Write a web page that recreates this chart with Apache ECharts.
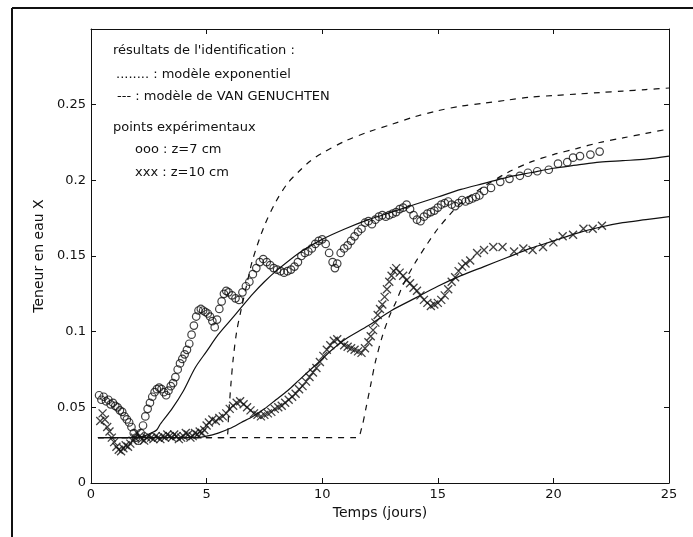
<!DOCTYPE html>
<html>
<head>
<meta charset="utf-8">
<script src="https://cdn.jsdelivr.net/npm/echarts@6/dist/echarts.min.js"></script>
<style>html,body{margin:0;padding:0;background:#fff}#c{width:693px;height:537px}</style>
</head>
<body>
<div id="c"></div>
<script>
// ---- Data ----
const xTicks = [0, 5, 10, 15, 20, 25];
const yTicks = [0, 0.05, 0.1, 0.15, 0.2, 0.25];

// Exponential model (solid), z = 7 cm
const exp7X = [0.3, 2.0, 2.3, 2.6, 2.84, 3.0, 3.5, 4.0, 4.5, 5.0, 5.5, 6.0, 6.5, 7.0, 7.5, 8.0, 9.0, 10, 11, 12, 13, 14, 15, 16, 17, 18, 19, 20, 21, 22, 23, 24, 25];
const exp7Y = [0.03, 0.03, 0.031, 0.033, 0.035, 0.039, 0.049, 0.061, 0.076, 0.087, 0.098, 0.107, 0.116, 0.125, 0.133, 0.140, 0.152, 0.161, 0.168, 0.174, 0.179, 0.184, 0.189, 0.194, 0.198, 0.202, 0.205, 0.208, 0.210, 0.212, 0.213, 0.214, 0.216];

// Exponential model (solid), z = 10 cm
const exp10X = [0.3, 4.5, 5.0, 5.5, 6.0, 6.5, 7.0, 7.5, 8.0, 8.5, 9.0, 9.5, 10, 10.5, 11, 12, 13, 14, 15, 16, 17, 18, 19, 20, 21, 22, 23, 24, 25];
const exp10Y = [0.03, 0.03, 0.031, 0.033, 0.036, 0.040, 0.044, 0.049, 0.055, 0.061, 0.068, 0.075, 0.082, 0.089, 0.095, 0.104, 0.114, 0.122, 0.130, 0.137, 0.143, 0.149, 0.155, 0.160, 0.165, 0.169, 0.172, 0.174, 0.176];

// Van Genuchten model (dashed), z = 7 cm
const vg7X = [0.3, 5.85, 5.95, 6.05, 6.15, 6.3, 6.5, 6.75, 7.0, 7.5, 8.0, 8.5, 9.0, 9.5, 10, 11, 12, 13, 14, 15, 16, 17, 18, 19, 20, 21, 22, 23, 24, 25];
const vg7Y = [0.03, 0.03, 0.045, 0.065, 0.082, 0.100, 0.115, 0.132, 0.148, 0.170, 0.186, 0.198, 0.206, 0.213, 0.218, 0.226, 0.232, 0.237, 0.242, 0.246, 0.249, 0.251, 0.253, 0.255, 0.256, 0.257, 0.258, 0.259, 0.260, 0.261];

// Van Genuchten model (dashed), z = 10 cm
const vg10X = [0.3, 11.5, 11.7, 11.9, 12.1, 12.3, 12.6, 12.9, 13.2, 13.5, 14, 14.5, 15, 15.5, 16, 17, 18, 19, 20, 21, 22, 23, 24, 25];
const vg10Y = [0.03, 0.03, 0.036, 0.05, 0.065, 0.08, 0.097, 0.11, 0.12, 0.131, 0.145, 0.157, 0.168, 0.177, 0.185, 0.196, 0.205, 0.212, 0.217, 0.221, 0.225, 0.228, 0.231, 0.234];

// Experimental points, z = 7 cm (ooo)
const obs7X = [0.35,0.45,0.55,0.65,0.75,0.85,0.95,1.05,1.15,1.25,1.35,1.45,1.55,1.65,1.75,1.85,1.95,2.05,2.15,2.25,2.35,2.45,2.55,2.65,2.75,2.85,2.95,3.05,3.15,3.25,3.35,3.45,3.55,3.65,3.75,3.85,3.95,4.05,4.15,4.25,4.35,4.45,4.55,4.65,4.75,4.85,4.95,5.05,5.15,5.25,5.35,5.45,5.55,5.65,5.75,5.85,5.95,6.1,6.25,6.4,6.55,6.7,6.85,7.0,7.15,7.3,7.45,7.6,7.75,7.9,8.05,8.2,8.35,8.5,8.65,8.8,8.95,9.1,9.25,9.4,9.55,9.7,9.85,10.0,10.15,10.3,10.45,10.55,10.65,10.8,10.95,11.1,11.25,11.4,11.55,11.7,11.85,12.0,12.15,12.3,12.45,12.6,12.75,12.9,13.05,13.2,13.35,13.5,13.65,13.8,13.95,14.1,14.25,14.4,14.55,14.7,14.85,15.0,15.15,15.3,15.45,15.6,15.75,15.9,16.05,16.2,16.35,16.5,16.65,16.8,17.0,17.3,17.7,18.1,18.55,18.9,19.3,19.8,20.2,20.6,20.85,21.15,21.6,22.0];
const obs7Y = [0.058,0.055,0.057,0.054,0.055,0.052,0.053,0.051,0.050,0.048,0.047,0.044,0.042,0.040,0.037,0.033,0.030,0.028,0.033,0.038,0.044,0.049,0.053,0.057,0.060,0.062,0.063,0.062,0.060,0.058,0.061,0.064,0.066,0.070,0.075,0.079,0.082,0.085,0.088,0.092,0.098,0.104,0.110,0.114,0.115,0.114,0.113,0.112,0.110,0.107,0.103,0.108,0.115,0.120,0.125,0.127,0.126,0.124,0.122,0.121,0.126,0.130,0.133,0.138,0.142,0.146,0.148,0.146,0.144,0.142,0.141,0.140,0.139,0.140,0.141,0.143,0.146,0.150,0.152,0.153,0.155,0.158,0.160,0.161,0.158,0.152,0.146,0.142,0.145,0.152,0.155,0.157,0.160,0.163,0.166,0.168,0.172,0.173,0.171,0.174,0.176,0.177,0.176,0.177,0.178,0.179,0.181,0.182,0.184,0.181,0.177,0.174,0.173,0.176,0.178,0.179,0.180,0.182,0.184,0.185,0.186,0.184,0.183,0.185,0.187,0.186,0.187,0.188,0.189,0.190,0.193,0.195,0.199,0.201,0.203,0.205,0.206,0.207,0.211,0.212,0.215,0.216,0.217,0.219];

// Experimental points, z = 10 cm (xxx)
const obs10X = [0.4,0.5,0.6,0.7,0.8,0.9,1.0,1.1,1.2,1.3,1.4,1.5,1.6,1.7,1.8,1.9,2.0,2.1,2.2,2.3,2.4,2.5,2.6,2.7,2.8,2.9,3.0,3.1,3.2,3.3,3.4,3.5,3.6,3.7,3.8,3.9,4.0,4.1,4.2,4.3,4.4,4.5,4.6,4.7,4.8,4.9,5.0,5.1,5.25,5.4,5.55,5.7,5.85,6.0,6.15,6.3,6.45,6.6,6.75,6.9,7.05,7.2,7.35,7.5,7.65,7.8,7.95,8.1,8.25,8.4,8.55,8.7,8.85,9.0,9.15,9.3,9.45,9.6,9.75,9.9,10.05,10.2,10.35,10.5,10.65,10.8,10.95,11.1,11.25,11.4,11.55,11.7,11.85,12.0,12.1,12.2,12.3,12.4,12.5,12.6,12.7,12.8,12.9,13.0,13.1,13.2,13.35,13.5,13.65,13.8,13.95,14.1,14.25,14.4,14.55,14.7,14.85,15.0,15.15,15.3,15.45,15.6,15.75,15.9,16.05,16.2,16.4,16.7,17.0,17.4,17.8,18.3,18.7,19.1,19.55,20.0,20.4,20.85,21.3,21.7,22.1];
const obs10Y = [0.041,0.046,0.042,0.037,0.034,0.030,0.027,0.024,0.022,0.021,0.023,0.025,0.024,0.026,0.028,0.030,0.033,0.031,0.029,0.028,0.030,0.031,0.030,0.029,0.031,0.030,0.029,0.031,0.030,0.032,0.031,0.030,0.032,0.031,0.029,0.030,0.031,0.033,0.032,0.030,0.031,0.033,0.032,0.034,0.033,0.035,0.038,0.040,0.042,0.041,0.043,0.044,0.046,0.049,0.051,0.053,0.054,0.052,0.050,0.048,0.046,0.045,0.044,0.045,0.046,0.047,0.049,0.050,0.051,0.053,0.055,0.057,0.059,0.062,0.064,0.067,0.070,0.073,0.076,0.080,0.084,0.088,0.091,0.094,0.095,0.093,0.091,0.090,0.089,0.088,0.087,0.086,0.089,0.093,0.097,0.101,0.106,0.111,0.115,0.118,0.123,0.128,0.133,0.137,0.140,0.142,0.139,0.137,0.134,0.132,0.129,0.127,0.124,0.121,0.119,0.117,0.118,0.119,0.121,0.124,0.128,0.133,0.136,0.140,0.143,0.145,0.147,0.152,0.154,0.156,0.156,0.153,0.155,0.154,0.156,0.159,0.163,0.164,0.168,0.168,0.170];

const legendLines = [
  "résultats de l'identification :",
  "........ : modèle exponentiel",
  "--- : modèle de VAN GENUCHTEN",
  "points expérimentaux",
  "ooo : z=7 cm",
  "xxx : z=10 cm"
];

// ---- Chart ----
const zip = (xs, ys) => xs.map((x, i) => [x, ys[i]]);
const FONT = "'DejaVu Sans', 'Liberation Sans', Arial, sans-serif";
const chart = echarts.init(document.getElementById('c'), null, {renderer: 'canvas'});

const axisLineStyle = {color: '#111', width: 1};
const xCommon = {type: 'value', min: xTicks[0], max: xTicks[xTicks.length - 1], interval: 5, splitLine: {show: false},
  axisLine: {show: true, onZero: false, lineStyle: axisLineStyle}, axisTick: {show: true, inside: true, length: 5, lineStyle: axisLineStyle}};
const yCommon = {type: 'value', min: 0, max: 0.3, interval: 0.05, splitLine: {show: false},
  axisLine: {show: true, onZero: false, lineStyle: axisLineStyle}, axisTick: {show: true, inside: true, length: 5, lineStyle: axisLineStyle}};

const xMark = 'path://M0,0L10,10M10,0L0,10';

const textY = [51, 75, 97, 128, 150, 173];
const textX = [113, 116, 117, 113, 135, 135];

chart.setOption({
  animation: false,
  backgroundColor: '#fff',
  grid: {left: 91, top: 29, right: 24, bottom: 54},
  xAxis: [
    Object.assign({}, xCommon, {position: 'bottom',
      axisLabel: {show: true, color: '#111', fontSize: 13, fontFamily: FONT, margin: 5,
        formatter: v => (xTicks.indexOf(v) >= 0 ? String(v) : '')},
      name: 'Temps (jours)', nameLocation: 'middle', nameGap: 20,
      nameTextStyle: {color: '#111', fontSize: 14, fontFamily: FONT}}),
    Object.assign({}, xCommon, {position: 'top', axisLabel: {show: false}})
  ],
  yAxis: [
    Object.assign({}, yCommon, {position: 'left',
      axisLabel: {show: true, color: '#111', fontSize: 13, fontFamily: FONT, margin: 5,
        formatter: v => { const r = Math.round(v * 100) / 100; return yTicks.indexOf(r) >= 0 ? String(r) : ''; }},
      name: 'Teneur en eau X', nameLocation: 'middle', nameGap: 37, nameRotate: 90,
      nameTextStyle: {color: '#111', fontSize: 14, fontFamily: FONT}}),
    Object.assign({}, yCommon, {position: 'right', axisLabel: {show: false}})
  ],
  series: [
    {type: 'line', data: zip(exp7X, exp7Y), showSymbol: false, smooth: 0.3, lineStyle: {color: '#111', width: 1.2}, z: 3},
    {type: 'line', data: zip(exp10X, exp10Y), showSymbol: false, smooth: 0.3, lineStyle: {color: '#111', width: 1.2}, z: 3},
    {type: 'line', data: zip(vg7X, vg7Y), showSymbol: false, smooth: 0.3, lineStyle: {color: '#111', width: 1.2, type: [6, 6]}, z: 3},
    {type: 'line', data: zip(vg10X, vg10Y), showSymbol: false, smooth: 0.3, lineStyle: {color: '#111', width: 1.2, type: [6, 6]}, z: 3},
    {type: 'scatter', data: zip(obs7X, obs7Y), symbol: 'circle', symbolSize: 7.5,
      itemStyle: {color: 'rgba(0,0,0,0)', borderColor: '#111', borderWidth: 1.2}, z: 4},
    {type: 'scatter', data: zip(obs10X, obs10Y), symbol: xMark, symbolSize: 8,
      itemStyle: {color: 'rgba(0,0,0,0)', borderColor: '#111', borderWidth: 1.3}, z: 4}
  ],
  graphic: [
    {type: 'line', shape: {x1: 12, y1: 8, x2: 693, y2: 8}, style: {stroke: '#111', lineWidth: 2}},
    {type: 'line', shape: {x1: 12, y1: 8, x2: 12, y2: 537}, style: {stroke: '#111', lineWidth: 2}}
  ].concat(legendLines.map((t, i) => ({
    type: 'text', x: textX[i], y: textY[i],
    style: {text: t, fill: '#111', font: '13px ' + FONT, textVerticalAlign: 'middle', verticalAlign: 'middle'}
  })))
});
</script>
</body>
</html>
